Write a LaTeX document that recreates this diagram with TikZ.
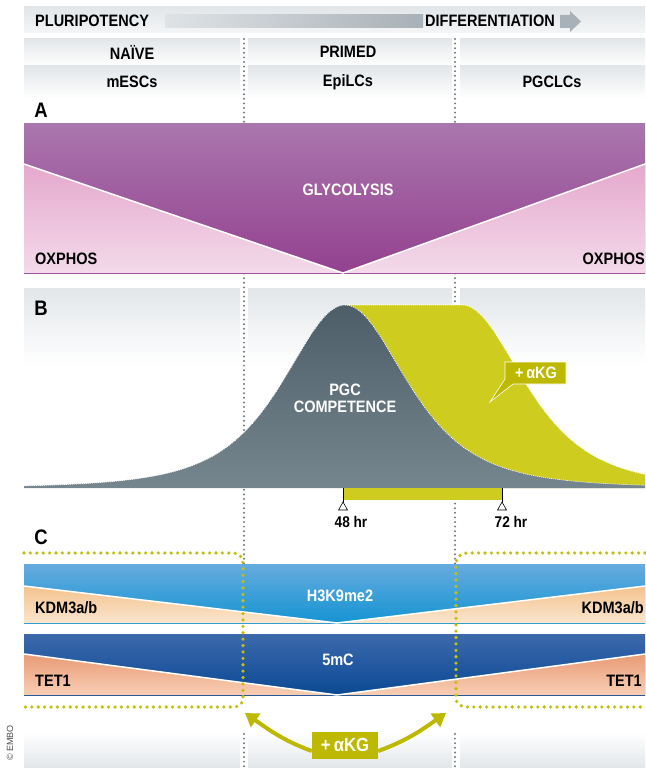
\documentclass[tikz,border=0pt]{standalone}
\usepackage{fontspec}
\setmainfont{Liberation Sans}
\newfontfamily\condfont[FakeStretch=0.88]{Liberation Sans}
\usetikzlibrary{arrows.meta}
\definecolor{bandgray}{HTML}{E2E6E9}
\definecolor{dotgray}{HTML}{6E7A83}
\definecolor{dotyellow}{HTML}{C4BF0C}
\definecolor{purptop}{HTML}{AA76AE}
\definecolor{purpbot}{HTML}{93418E}
\definecolor{pinktop}{HTML}{E5A8CD}
\definecolor{pinkbot}{HTML}{F3DAEA}
\definecolor{curvetop}{HTML}{4E5E69}
\definecolor{curvebot}{HTML}{76868E}
\definecolor{ylw}{HTML}{CFCC20}
\definecolor{akg}{HTML}{BDB800}
\definecolor{h3top}{HTML}{66ABDF}
\definecolor{h3bot}{HTML}{1594D2}
\definecolor{kdmtop}{HTML}{F3C28E}
\definecolor{kdmbot}{HTML}{FBE6CE}
\definecolor{mctop}{HTML}{3D69AC}
\definecolor{mcbot}{HTML}{0A4994}
\definecolor{tettop}{HTML}{EA9B75}
\definecolor{tetbot}{HTML}{F8CEB5}
\definecolor{arrowL}{HTML}{DFE3E6}
\definecolor{arrowR}{HTML}{A8B1B7}
\tikzset{
  lbl/.style={font=\condfont\bfseries\fontsize{16.5}{18}\selectfont, inner sep=0pt},
  wlbl/.style={lbl, text=white, align=center},
  tlbl/.style={font=\condfont\bfseries\fontsize{15.5}{17}\selectfont, inner sep=0pt},
  paneltag/.style={font=\condfont\bfseries\fontsize{21}{23}\selectfont, inner sep=0pt},
  gdots/.style={draw=dotgray, line width=2.2pt, line cap=round, dash pattern=on 0pt off 4.6pt},
  ydots/.style={draw=dotyellow, line width=3.6pt, line cap=round, dash pattern=on 0pt off 6.4pt},
  curveedge/.style={draw=white, line width=0.7pt, dash pattern=on 1pt off 1pt},
  akgarrow/.style={draw=akg, line width=4pt, -{Triangle[length=13pt,width=16pt]}},
  bandshade/.style={top color=bandgray, bottom color=white},
  bandshadeup/.style={top color=white, bottom color=bandgray},
  whiteline/.style={draw=white, line width=1.5pt},
}
\begin{document}
\begin{tikzpicture}[x=1pt,y=-1pt]
\useasboundingbox (0,0) rectangle (645,768);
\fill[white] (0,0) rectangle (645,768);

% ---------- header rows ----------
\shade[top color=bandgray, bottom color=white!60!bandgray] (24,7) rectangle (645,33);
\foreach \a/\b in {24/240,248/452,460/645}{
  \shade[bandshade] (\a,39) rectangle (\b,66);
  \shade[bandshade] (\a,66) rectangle (\b,98);
  \shade[bandshade] (\a,288) rectangle (\b,365);
  \shade[bandshadeup] (\a,732) rectangle (\b,768);
}
% top arrow
\shade[left color=arrowL, right color=arrowR] (165,15) rectangle (423,28);
\fill[arrowR] (560,15) -- (570,15) -- (570,11) -- (581,21.5) -- (570,32) -- (570,28) -- (560,28) -- cycle;
\node[lbl, anchor=west] (plu) at (35,21) {PLURIPOTENCY};
\node[lbl, anchor=west] (dif) at (425,21) {DIFFERENTIATION};
\node[lbl] (naive) at (132,52) {NAÏVE};
\node[lbl] (primed) at (348,52) {PRIMED};
\node[lbl] (mesc) at (132,82) {mESCs};
\node[lbl] (epi) at (348,82) {EpiLCs};
\node[lbl] (pgclc) at (552,82) {PGCLCs};

% ---------- gray dotted column separators ----------
\foreach \x in {244,455}{
  \draw[gdots] (\x,39) -- (\x,565);
  \draw[gdots] (\x,734) -- (\x,768);
}

% ---------- Panel A ----------
\node[paneltag] (tagA) at (41,110) {A};
\shade[top color=purptop, bottom color=purpbot] (24,123) rectangle (645,273);
\shade[top color=pinktop, bottom color=pinkbot] (24,164) -- (343,273) -- (24,273) -- cycle;
\shade[top color=pinktop, bottom color=pinkbot] (645,164) -- (343,273) -- (645,273) -- cycle;
\draw[whiteline] (24,164) -- (343,273) -- (645,164);
\node[wlbl] (gly) at (348,190) {GLYCOLYSIS};
\node[lbl, anchor=west] (oxl) at (35,259) {OXPHOS};
\node[lbl, anchor=east] (oxr) at (645,259) {OXPHOS};

% ---------- Panel B ----------
\node[paneltag] (tagB) at (41,308) {B};
\fill[ylw] (345,488) -- (345,305) -- (462,305)
  -- plot[domain=462:645, samples=120] (\x,{488-183/((1+((\x-462)/112)*((\x-462)/112))*(1+((\x-462)/112)*((\x-462)/112)))})
  -- (645,488) -- cycle;
\shade[top color=curvetop, bottom color=curvebot] (24,488)
  -- plot[domain=24:645, samples=240] (\x,{488-183/((1+((\x-345)/112)*((\x-345)/112))*(1+((\x-345)/112)*((\x-345)/112)))})
  -- (645,488) -- cycle;
\draw[curveedge] (345,305) -- (462,305)
  -- plot[domain=462:645, samples=120] (\x,{488-183/((1+((\x-462)/112)*((\x-462)/112))*(1+((\x-462)/112)*((\x-462)/112)))});
\draw[curveedge] plot[domain=24:645, samples=240] (\x,{488-183/((1+((\x-345)/112)*((\x-345)/112))*(1+((\x-345)/112)*((\x-345)/112)))});
\node[wlbl] (pgc) at (345,398) {PGC\\[-1pt]COMPETENCE};
% callout
\fill[akg, draw=white, line width=0.6pt] (505,362) -- (566,362) -- (566,384) -- (513,384) -- (490,402) -- (505,379) -- cycle;
\node[wlbl] (akgB) at (536,373) {+\,αKG};
% time bar
\fill[ylw] (343,488) rectangle (502,500);
\coordinate (t48) at (343,488);
\coordinate (t72) at (502,488);
\draw[black, line width=0.8pt] (t48) -- ++(0,15);
\draw[black, line width=0.8pt] (t72) -- ++(0,15);
\draw[black, fill=white, line width=0.6pt] (343,502) -- (347.5,510) -- (338.5,510) -- cycle;
\draw[black, fill=white, line width=0.6pt] (502,502) -- (506.5,510) -- (497.5,510) -- cycle;
\node[tlbl] (h48) at (351,522) {48 hr};
\node[tlbl] (h72) at (511,522) {72 hr};

% ---------- Panel C ----------
\node[paneltag] (tagC) at (41,537) {C};
\shade[top color=h3top, bottom color=h3bot] (24,564) rectangle (645,623);
\shade[top color=kdmtop, bottom color=kdmbot] (24,586) -- (337,623) -- (24,623) -- cycle;
\shade[top color=kdmtop, bottom color=kdmbot] (645,586) -- (337,623) -- (645,623) -- cycle;
\draw[whiteline] (24,586) -- (337,623) -- (645,586);
\shade[top color=mctop, bottom color=mcbot] (24,634) rectangle (645,695);
\shade[top color=tettop, bottom color=tetbot] (24,654) -- (337,695) -- (24,695) -- cycle;
\shade[top color=tettop, bottom color=tetbot] (645,654) -- (337,695) -- (645,695) -- cycle;
\draw[whiteline] (24,654) -- (337,695) -- (645,654);
\node[wlbl] (h3) at (340,596) {H3K9me2};
\node[wlbl] (mc) at (338,660) {5mC};
\node[lbl, anchor=west] (kdml) at (35,608) {KDM3a/b};
\node[lbl, anchor=east] (kdmr) at (644,608) {KDM3a/b};
\node[lbl, anchor=west] (tetl) at (35,681) {TET1};
\node[lbl, anchor=east] (tetr) at (642,681) {TET1};
% yellow dotted frames
\draw[ydots] (24,553) -- (232,553) .. controls (240,553) and (243,557) .. (243,566)
  -- (243,697) .. controls (243,704) and (240,707) .. (232,707) -- (24,707);
\draw[ydots] (645,553) -- (468,553) .. controls (460,553) and (456,557) .. (456,566)
  -- (456,697) .. controls (456,704) and (460,707) .. (468,707) -- (645,707);
% alpha-KG arrows
\node[fill=akg, text=white, font=\condfont\bfseries\fontsize{19}{21}\selectfont, minimum width=66pt, minimum height=27pt, inner sep=0pt] (akgC) at (345,745) {+\,αKG};
\coordinate (tipL) at (245,713);
\coordinate (tipR) at (446,713);
\draw[akgarrow] ([yshift=-6pt]akgC.west) to[out=160, in=-35] (tipL);
\draw[akgarrow] ([yshift=-6pt]akgC.east) to[out=20, in=215] (tipR);

% copyright
\node[rotate=90, text=black!70, font=\fontsize{9}{10}\selectfont, inner sep=0pt] (embo) at (10,743) {© EMBO};
\end{tikzpicture}
\end{document}
